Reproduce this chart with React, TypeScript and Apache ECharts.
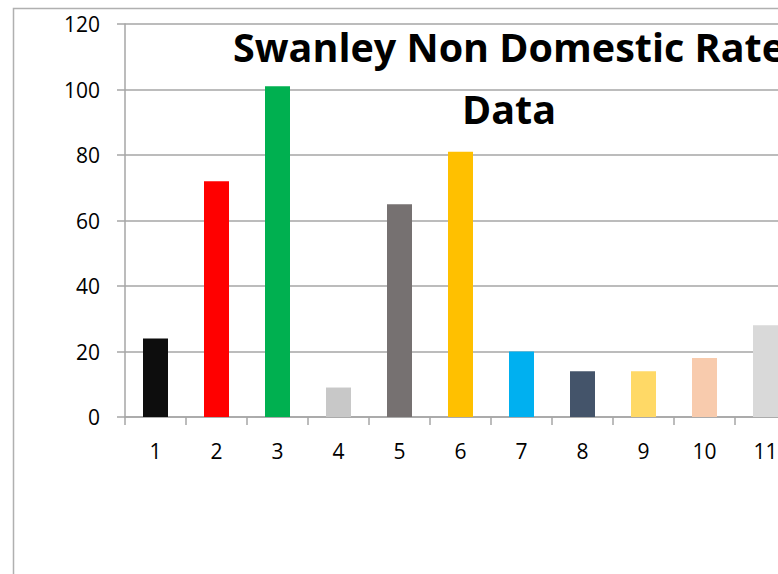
import React, { useEffect, useRef } from "react";
import * as echarts from "echarts";

const categories = ["1", "2", "3", "4", "5", "6", "7", "8", "9", "10", "11"];
const values = [24, 72, 101, 9, 65, 81, 20, 14, 14, 18, 28];
const barColors = [
  "#0d0d0d",
  "#ff0000",
  "#00b050",
  "#c8c8c8",
  "#767171",
  "#ffc000",
  "#00b0f0",
  "#44546a",
  "#ffd966",
  "#f8cbad",
  "#d9d9d9",
];
const titleText = "Swanley Non Domestic Rate\nData";

export default function App() {
  const ref = useRef<HTMLDivElement>(null);
  useEffect(() => {
    if (!ref.current) return;
    const chart = echarts.init(ref.current, undefined, { renderer: "svg" });
    const gray = "#a6a6a6";
    chart.setOption({
      animation: false,
      backgroundColor: "#ffffff",
      graphic: [
        {
          type: "rect",
          shape: { x: 13.5, y: 8.5, width: 1000, height: 700 },
          style: { fill: "none", stroke: "#b0b0b0", lineWidth: 1.5 },
          silent: true,
          z: -10,
        },
        {
          type: "text",
          x: 509,
          y: 16,
          z: 100,
          style: {
            text: titleText,
            align: "center",
            verticalAlign: "top",
            fontFamily: "Open Sans",
            fontWeight: "bold",
            fontSize: 39.5,
            lineHeight: 62,
            fill: "#000000",
          },
        },
      ],
      grid: { left: 125, top: 24, height: 393, width: 671, containLabel: false },
      xAxis: {
        type: "category",
        data: categories,
        boundaryGap: true,
        axisLine: { show: true, lineStyle: { color: gray, width: 1.5 } },
        axisTick: { show: true, alignWithLabel: false, length: 8, lineStyle: { color: gray, width: 1.5 } },
        axisLabel: { color: "#000000", fontFamily: "Open Sans", fontSize: 21, margin: 23 },
        splitLine: { show: false },
      },
      yAxis: {
        type: "value",
        min: 0,
        max: 120,
        interval: 20,
        axisLine: { show: true, lineStyle: { color: gray, width: 1.5 } },
        axisTick: { show: true, length: 8, inside: false, lineStyle: { color: gray, width: 1.5 } },
        axisLabel: { color: "#000000", fontFamily: "Open Sans", fontSize: 21, margin: 25 },
        splitLine: { show: true, lineStyle: { color: gray, width: 1.5 } },
      },
      series: [
        {
          type: "bar",
          data: values.map((v, i) => ({ value: v, itemStyle: { color: barColors[i] } })),
          barWidth: 25,
        },
      ],
    });
    return () => chart.dispose();
  }, []);
  return (
    <div style={{ position: "fixed", left: 0, top: 0, width: 778, height: 574, overflow: "hidden" }}>
      <div ref={ref} style={{ width: 830, height: 574 }} />
    </div>
  );
}
